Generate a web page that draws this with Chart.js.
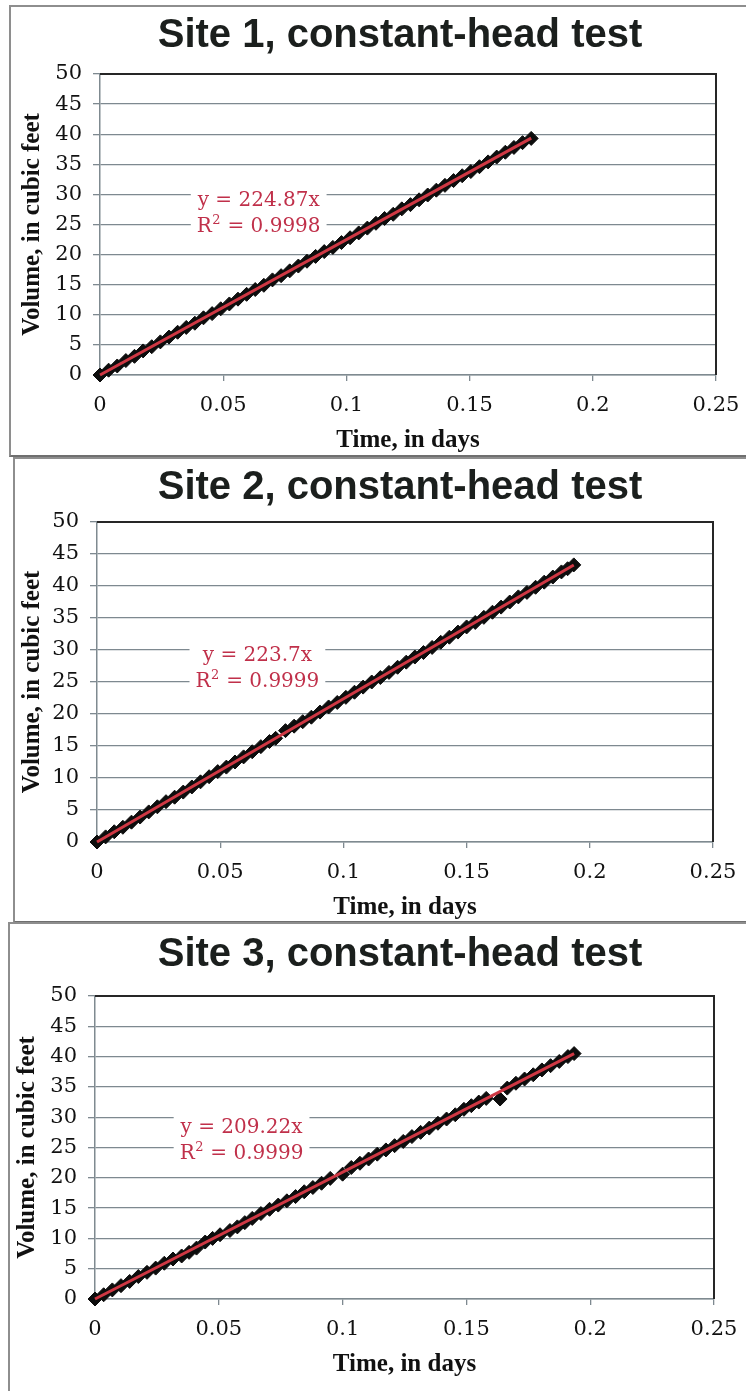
<!DOCTYPE html>
<html>
<head>
<meta charset="utf-8">
<title>Constant-head tests</title>
<script src="https://cdn.jsdelivr.net/npm/chart.js@4.4.1/dist/chart.umd.min.js"></script>
<style>
  html, body { margin: 0; padding: 0; background: #fff; }
  body { position: relative; width: 746px; height: 1391px; overflow: hidden; }
  .frame { position: absolute; box-sizing: border-box; border: 2px solid #8e8e8e; border-right: none; }
  .box { position: absolute; }
</style>
</head>
<body>
<div class="frame" style="left:9px; top:5px; width:760px; height:452px; border-bottom-color:#6f6f6f;"></div>
<div class="frame" style="left:13px; top:457px; width:760px; height:466px; border-bottom-color:#6f6f6f;"></div>
<div class="frame" style="left:8px; top:922px; width:760px; height:520px;"></div>

<div class="box" style="left:10px; top:6px; width:736px; height:450px;"><canvas id="site1"></canvas></div>
<div class="box" style="left:14px; top:458px; width:732px; height:465px;"><canvas id="site2"></canvas></div>
<div class="box" style="left:9px; top:923px; width:737px; height:457px;"><canvas id="site3"></canvas></div>

<script>
// axis ticks shared by all three plots
const xTickValues = [0, 0.05, 0.1, 0.15, 0.2, 0.25];
const xTickLabels = ['0', '0.05', '0.1', '0.15', '0.2', '0.25'];
const yTickValues = [0, 5, 10, 15, 20, 25, 30, 35, 40, 45, 50];
const yTickLabels = ['0', '5', '10', '15', '20', '25', '30', '35', '40', '45', '50'];

const siteTitles = ['Site 1, constant-head test', 'Site 2, constant-head test', 'Site 3, constant-head test'];
const trendSlopes = [224.87, 223.7, 209.22];
const trendR2 = ['0.9998', '0.9999', '0.9999'];

// measured volumes (cubic feet) against elapsed time (days)
const site1Time = [0, 0.0035, 0.007, 0.0105, 0.014, 0.0175, 0.021, 0.0245, 0.028, 0.0315,
  0.035, 0.0385, 0.042, 0.0455, 0.049, 0.0525, 0.056, 0.0595, 0.063, 0.0665,
  0.07, 0.0735, 0.077, 0.0805, 0.084, 0.0875, 0.091, 0.0945, 0.098, 0.1015,
  0.105, 0.1085, 0.112, 0.1155, 0.119, 0.1225, 0.126, 0.1295, 0.133, 0.1365,
  0.14, 0.1435, 0.147, 0.1505, 0.154, 0.1575, 0.161, 0.1645, 0.168, 0.1715, 0.175];
const site1Volume = [0, 0.8, 1.5, 2.4, 3.1, 4.0, 4.7, 5.5, 6.3, 7.1,
  7.9, 8.6, 9.5, 10.2, 11.0, 11.8, 12.6, 13.4, 14.2, 14.9,
  15.8, 16.5, 17.3, 18.1, 18.9, 19.7, 20.5, 21.2, 22.0, 22.8,
  23.6, 24.4, 25.2, 26.0, 26.7, 27.6, 28.3, 29.1, 29.9, 30.7,
  31.5, 32.3, 33.1, 33.8, 34.6, 35.4, 36.2, 37.0, 37.8, 38.6, 39.3];

const site2Time = [0, 0.0035, 0.007, 0.0105, 0.014, 0.0175, 0.021, 0.0245, 0.028, 0.0315,
  0.035, 0.0385, 0.042, 0.0455, 0.049, 0.0525, 0.056, 0.0595, 0.063, 0.0665,
  0.07, 0.0725, 0.0765, 0.08, 0.0835, 0.087, 0.0905, 0.094, 0.0975, 0.101,
  0.1045, 0.108, 0.1115, 0.115, 0.1185, 0.122, 0.1255, 0.129, 0.1325, 0.136,
  0.1395, 0.143, 0.1465, 0.15, 0.1535, 0.157, 0.1605, 0.164, 0.1675, 0.171,
  0.1745, 0.178, 0.1815, 0.185, 0.1885, 0.191, 0.1935];
const site2Volume = [0, 0.8, 1.6, 2.3, 3.1, 3.9, 4.7, 5.5, 6.3, 7.0,
  7.8, 8.6, 9.4, 10.2, 11.0, 11.7, 12.5, 13.3, 14.1, 14.9,
  15.7, 16.2, 17.4, 18.1, 18.8, 19.5, 20.3, 21.1, 21.8, 22.6,
  23.4, 24.2, 25.0, 25.7, 26.5, 27.3, 28.1, 28.9, 29.6, 30.4,
  31.2, 32.0, 32.8, 33.6, 34.3, 35.1, 35.9, 36.7, 37.5, 38.3,
  39.0, 39.8, 40.6, 41.4, 42.2, 42.7, 43.3];

const site3Time = [0, 0.0035, 0.007, 0.0105, 0.014, 0.0175, 0.021, 0.0245, 0.028, 0.0315,
  0.035, 0.038, 0.041,
  0.0445, 0.0475, 0.0505,
  0.0545, 0.0575, 0.0605,
  0.0635, 0.067, 0.0705, 0.074, 0.0775, 0.081, 0.0845, 0.088, 0.0915, 0.095,
  0.1, 0.1035, 0.107, 0.1105, 0.114, 0.1175, 0.121, 0.1245, 0.128, 0.1315, 0.135, 0.1385, 0.142, 0.1455,
  0.149, 0.152, 0.155, 0.158,
  0.1636,
  0.1665, 0.17, 0.1735, 0.177, 0.1805, 0.184, 0.1875, 0.191, 0.1935];
const site3Volume = [0, 0.7, 1.5, 2.2, 2.9, 3.7, 4.4, 5.1, 5.9, 6.6,
  7.1, 7.7, 8.4,
  9.4, 10.0, 10.6,
  11.3, 11.9, 12.6,
  13.3, 14.1, 14.8, 15.5, 16.2, 16.9, 17.7, 18.4, 19.1, 19.9,
  20.6, 21.7, 22.4, 23.1, 23.9, 24.6, 25.3, 26.0, 26.8, 27.5, 28.2, 29.0, 29.7, 30.4,
  31.3, 31.9, 32.5, 33.1,
  33.0,
  34.8, 35.6, 36.3, 37.0, 37.8, 38.5, 39.2, 40.0, 40.5];

const gridColor = 'rgba(112, 124, 132, 0.9)';
const axisColor = '#7f8a90';
const trendColor = '#cf3844';
const labelColor = '#c0304a';
const tickFont = { family: '"DejaVu Serif", serif', size: 21 };
const axisTitleFont = { family: '"Liberation Serif", serif', size: 25, weight: 'bold' };

// dark top and right edges of the plot area
const plotEdges = {
  id: 'plotEdges',
  beforeDatasetsDraw(chart) {
    const { ctx, chartArea: a } = chart;
    ctx.save();
    ctx.strokeStyle = '#262626';
    ctx.lineWidth = 2;
    ctx.beginPath();
    ctx.moveTo(a.left, a.top);
    ctx.lineTo(a.right, a.top);
    ctx.lineTo(a.right, a.bottom);
    ctx.stroke();
    ctx.restore();
  }
};

const heading = {
  id: 'heading',
  afterDraw(chart, args, opts) {
    const ctx = chart.ctx;
    ctx.save();
    ctx.font = 'bold 40px "Liberation Sans", Arial, sans-serif';
    ctx.fillStyle = '#1b1f1d';
    ctx.textAlign = 'center';
    ctx.textBaseline = 'middle';
    ctx.fillText(opts.text, opts.x, opts.y);
    ctx.restore();
  }
};

// regression equation on a white box, placed in data units
const equation = {
  id: 'equation',
  afterDraw(chart, args, opts) {
    const { ctx, scales } = chart;
    const cx = scales.x.getPixelForValue(opts.x);
    const cy = scales.y.getPixelForValue(opts.y);
    const mainFont = '20px "DejaVu Serif", serif';
    const supFont = '13px "DejaVu Serif", serif';
    const line1 = 'y = ' + opts.slope + 'x';
    const rest = ' = ' + opts.r2;

    ctx.save();
    ctx.font = mainFont;
    const w1 = ctx.measureText(line1).width;
    const wR = ctx.measureText('R').width;
    const wRest = ctx.measureText(rest).width;
    ctx.font = supFont;
    const wSup = ctx.measureText('2').width + 1;
    const w2 = wR + wSup + wRest;
    const w = Math.max(w1, w2);

    ctx.fillStyle = '#fff';
    ctx.fillRect(cx - w / 2 - 6, cy - 28, w + 12, 56);

    ctx.fillStyle = labelColor;
    ctx.textBaseline = 'alphabetic';
    ctx.font = mainFont;
    ctx.textAlign = 'center';
    ctx.fillText(line1, cx, cy - 6);
    ctx.textAlign = 'left';
    let x = cx - w2 / 2;
    const base2 = cy + 20;
    ctx.fillText('R', x, base2);
    x += wR;
    ctx.font = supFont;
    ctx.fillText('2', x + 0.5, base2 - 8);
    x += wSup;
    ctx.font = mainFont;
    ctx.fillText(rest, x, base2);
    ctx.restore();
  }
};

function makeChart(id, site, times, volumes, c) {
  const slope = trendSlopes[site];
  const tEnd = times[times.length - 1];
  const points = times.map((t, i) => ({ x: t, y: volumes[i] }));

  return new Chart(document.getElementById(id), {
    type: 'scatter',
    data: {
      datasets: [
        {
          type: 'line',
          data: [{ x: 0, y: 0 }, { x: tEnd, y: slope * tEnd }],
          borderColor: trendColor,
          borderWidth: 3,
          pointRadius: 0,
          order: 0,
          clip: false
        },
        {
          data: points,
          pointStyle: 'rectRot',
          pointRadius: 7,
          backgroundColor: '#0d0d0d',
          borderColor: '#0d0d0d',
          borderWidth: 1,
          order: 1,
          clip: false
        }
      ]
    },
    options: {
      responsive: true,
      maintainAspectRatio: false,
      animation: false,
      events: [],
      layout: { padding: { top: c.plotTop, right: c.padRight, left: 0, bottom: 0 } },
      plugins: {
        legend: { display: false },
        tooltip: { enabled: false },
        heading: { text: siteTitles[site], x: c.titleX, y: c.titleY },
        equation: { x: c.eqX, y: c.eqY, slope: slope, r2: trendR2[site] }
      },
      scales: {
        x: {
          type: 'linear',
          min: 0,
          max: 0.25,
          afterBuildTicks: s => { s.ticks = xTickValues.map(v => ({ value: v })); },
          afterFit: s => { s.height = 81; s.paddingLeft = 0; s.paddingRight = 0; },
          grid: { drawOnChartArea: false, drawTicks: true, tickLength: 6, color: gridColor, lineWidth: 1.3 },
          border: { color: axisColor, width: 1.5 },
          ticks: {
            padding: 12,
            maxRotation: 0,
            autoSkip: false,
            color: '#111',
            font: tickFont,
            callback: (v, i) => xTickLabels[i]
          },
          title: {
            display: true,
            text: 'Time, in days',
            color: '#111',
            font: axisTitleFont,
            padding: { top: 0, bottom: 0 }
          }
        },
        y: {
          type: 'linear',
          min: 0,
          max: 50,
          afterBuildTicks: s => { s.ticks = yTickValues.map(v => ({ value: v })); },
          afterFit: s => { s.width = c.plotLeft; s.paddingTop = 0; s.paddingBottom = 0; },
          grid: { color: gridColor, lineWidth: 1.3, tickLength: 7 },
          border: { color: axisColor, width: 1.5 },
          ticks: {
            padding: 11,
            color: '#111',
            font: tickFont,
            callback: (v, i) => yTickLabels[i]
          },
          title: {
            display: true,
            text: 'Volume, in cubic feet',
            color: '#111',
            font: axisTitleFont,
            padding: { top: c.yTitlePad, bottom: 0 }
          }
        }
      }
    },
    plugins: [plotEdges, heading, equation]
  });
}

makeChart('site1', 0, site1Time, site1Volume,
  { plotTop: 68, plotLeft: 90, padRight: 30, titleX: 390, titleY: 30, yTitlePad: 8, eqX: 0.0644, eqY: 27.05 });
makeChart('site2', 1, site2Time, site2Volume,
  { plotTop: 64, plotLeft: 83, padRight: 33, titleX: 386, titleY: 30, yTitlePad: 4, eqX: 0.0651, eqY: 27.3 });
makeChart('site3', 2, site3Time, site3Volume,
  { plotTop: 73, plotLeft: 86, padRight: 32, titleX: 391, titleY: 32, yTitlePad: 4, eqX: 0.0592, eqY: 26.35 });
</script>
</body>
</html>
